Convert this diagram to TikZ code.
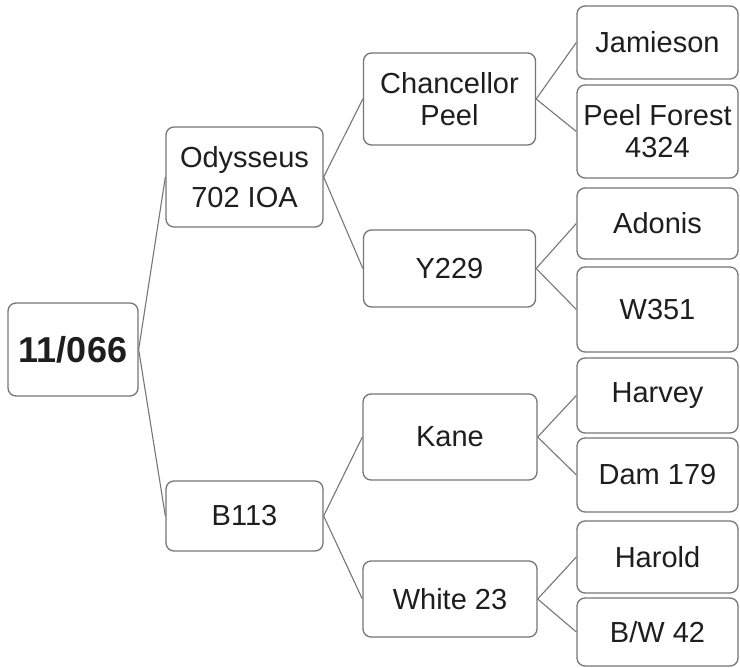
\documentclass[tikz,border=0pt]{standalone}
\usepackage{fontspec}
\setmainfont{Liberation Sans}
\usetikzlibrary{positioning}
\definecolor{edgegray}{HTML}{767676}
\definecolor{txtgray}{HTML}{1E1E1E}
\tikzset{anc/.style={draw=edgegray, line width=1.3pt, rounded corners=8pt, fill=white, align=center, inner sep=0pt, text=txtgray, font=\fontsize{29}{32}\selectfont}}
\tikzset{lnk/.style={draw=edgegray, line width=1.1pt}}

\begin{document}
\begin{tikzpicture}[x=1pt,y=-1pt]
\useasboundingbox (0,0) rectangle (740,668);

\node[anc, minimum width=130pt, minimum height=93pt, font=\fontsize{36}{40}\selectfont\bfseries] (root) at (73, 349.5) {11/066};

\node[anc, minimum width=157pt, minimum height=100pt] (ody) at (244.5, 177) {Odysseus\\[8pt]702 IOA};
\node[anc, minimum width=157pt, minimum height=70pt] (b113) at (244.5, 516) {B113};

\node[anc, minimum width=172pt, minimum height=92pt] (chan) at (449.5, 99) {Chancellor\\Peel};
\node[anc, minimum width=172pt, minimum height=77pt] (y229) at (449.5, 268.5) {Y229};
\node[anc, minimum width=174pt, minimum height=86pt] (kane) at (450, 437) {Kane};
\node[anc, minimum width=174pt, minimum height=76pt] (white) at (450, 599) {White 23};

\node[anc, minimum width=161pt, minimum height=73pt] (jam) at (657.5, 42.5) {Jamieson};
\node[anc, minimum width=161pt, minimum height=93pt] (peelf) at (657.5, 131.5) {Peel Forest\\4324};
\node[anc, minimum width=161pt, minimum height=71pt] (adonis) at (657.5, 223.5) {Adonis};
\node[anc, minimum width=161pt, minimum height=85pt] (w351) at (657.5, 309.5) {W351};
\node[anc, minimum width=161pt, minimum height=75pt] (harvey) at (657.5, 395.5) {Harvey};
\node[anc, minimum width=161pt, minimum height=74pt] (dam) at (657.5, 475) {Dam 179};
\node[anc, minimum width=161pt, minimum height=72pt] (harold) at (657.5, 557) {Harold};
\node[anc, minimum width=161pt, minimum height=68pt] (bw) at (657.5, 632) {B/W 42};

\draw[lnk] (root.east) -- (ody.west);
\draw[lnk] (root.east) -- (b113.west);

\draw[lnk] (ody.east) -- (chan.west);
\draw[lnk] (ody.east) -- (y229.west);
\draw[lnk] (b113.east) -- (kane.west);
\draw[lnk] (b113.east) -- (white.west);

\draw[lnk] (chan.east) -- (jam.west);
\draw[lnk] (chan.east) -- (peelf.west);
\draw[lnk] (y229.east) -- (adonis.west);
\draw[lnk] (y229.east) -- (w351.west);
\draw[lnk] (kane.east) -- (harvey.west);
\draw[lnk] (kane.east) -- (dam.west);
\draw[lnk] (white.east) -- (harold.west);
\draw[lnk] (white.east) -- (bw.west);
\end{tikzpicture}
\end{document}
